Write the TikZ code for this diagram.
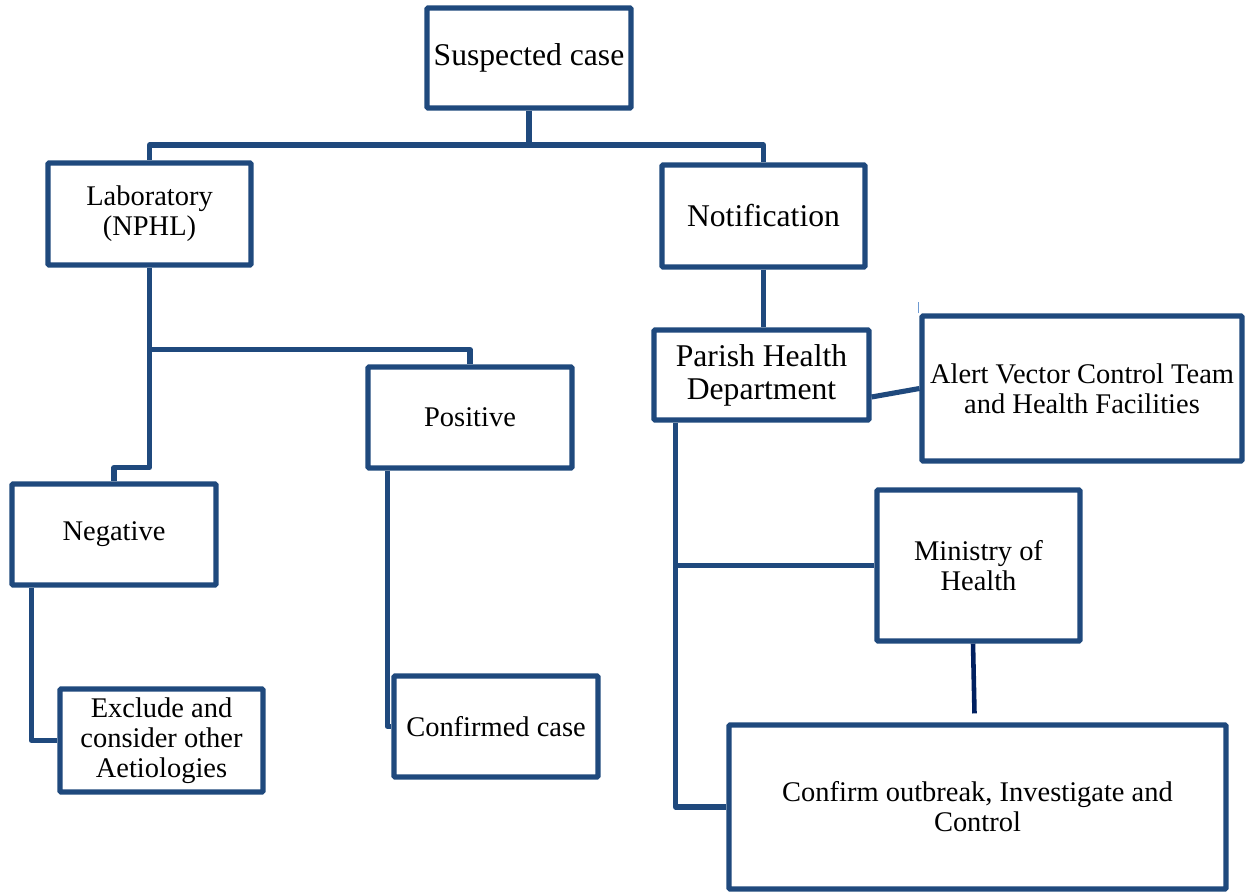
\documentclass[tikz,border=0pt]{standalone}
\usepackage{fontspec}
\setmainfont{Liberation Serif}
\usetikzlibrary{positioning,calc}
\definecolor{FlowBlue}{HTML}{1F497D}
\definecolor{FlowNavy}{HTML}{002060}
\definecolor{FlowTick}{HTML}{6E9AD2}
\tikzset{
  bigbox/.style={draw=FlowBlue, line width=2.9pt, fill=white, align=center,
                 inner sep=2pt, rounded corners=0.6pt,
                 font=\fontsize{18}{18.8}\selectfont},
  smallbox/.style={draw=FlowBlue, line width=2.9pt, fill=white, align=center,
                   inner sep=2pt, rounded corners=0.6pt,
                   font=\fontsize{16.2}{17}\selectfont},
  link/.style={FlowBlue, line width=2.9pt, line join=round},
}

\begin{document}
\begin{tikzpicture}
  \useasboundingbox (0,0) rectangle (24.92,17.84);

  % top of the tree
  \node[bigbox, minimum width=4.08cm, minimum height=2.0cm] (susp) at (10.58,16.68)
        {Suspected case};
  \node[smallbox, minimum width=4.06cm, minimum height=2.04cm] (lab) at (2.99,13.56)
        {Laboratory\\(NPHL)};
  \node[bigbox, minimum width=4.06cm, minimum height=2.04cm] (notif) at (15.27,13.52)
        {Notification};

  % laboratory branch
  \node[smallbox, minimum width=4.08cm, minimum height=2.02cm] (pos) at (9.40,9.49)
        {Positive};
  \node[smallbox, minimum width=4.08cm, minimum height=2.02cm] (neg) at (2.28,7.15)
        {Negative};
  \node[smallbox, minimum width=4.06cm, minimum height=2.06cm] (excl) at (3.23,3.03)
        {Exclude and\\consider other\\Aetiologies};
  \node[smallbox, minimum width=4.08cm, minimum height=2.02cm] (conf) at (9.92,3.31)
        {Confirmed case};

  % notification branch
  \node[bigbox, minimum width=4.30cm, minimum height=1.80cm] (parish) at (15.23,10.34)
        {Parish Health\\Department};
  \node[smallbox, minimum width=6.40cm, minimum height=2.90cm] (alert) at (21.64,10.07)
        {Alert Vector Control Team\\and Health Facilities};
  \node[smallbox, minimum width=4.06cm, minimum height=3.02cm] (moh) at (19.57,6.53)
        {Ministry of\\Health};
  \node[smallbox, minimum width=9.94cm, minimum height=3.28cm] (outb) at (19.55,1.70)
        {Confirm outbreak, Investigate and\\Control};

  % joints
  \coordinate (j1) at ($(susp.south)+(0,-0.69)$);
  \coordinate (j2) at ($(lab.south)+(0,-1.64)$);
  \coordinate (j3) at ($(lab.south)+(0,-4.00)$);
  \coordinate (p1) at ($(parish.south west)+(0.48,0)$);
  \coordinate (m1) at ($(moh.south)+(-0.11,0)$);
  \coordinate (m2) at ($(outb.north)+(-0.06,0.18)$);

  \draw[link] (susp) -- (j1) -| (lab);
  \draw[link] (j1) -| (notif);
  \draw[link] (lab) -- (j2) -| (pos);
  \draw[link] (j2) -- (j3) -| (neg);
  \draw[link] ($(neg.south west)+(0.44,0)$) |- (excl.west);
  \draw[link] ($(pos.south west)+(0.44,0)$) |- (conf.west);
  \draw[link] (notif) -- (notif |- parish.north);
  \draw[link] ($(parish.east)+(0,-0.44)$) -- (alert.west);
  \draw[link] (p1) |- (outb.west);
  \draw[link] (p1 |- moh.west) -- (moh.west);
  \draw[FlowNavy, line width=2.6pt] (m1) -- (m2);
  \draw[FlowTick, line width=1pt] ($(alert.north west)+(-0.02,0)$) -- ++(0,0.22);

\end{tikzpicture}
\end{document}
